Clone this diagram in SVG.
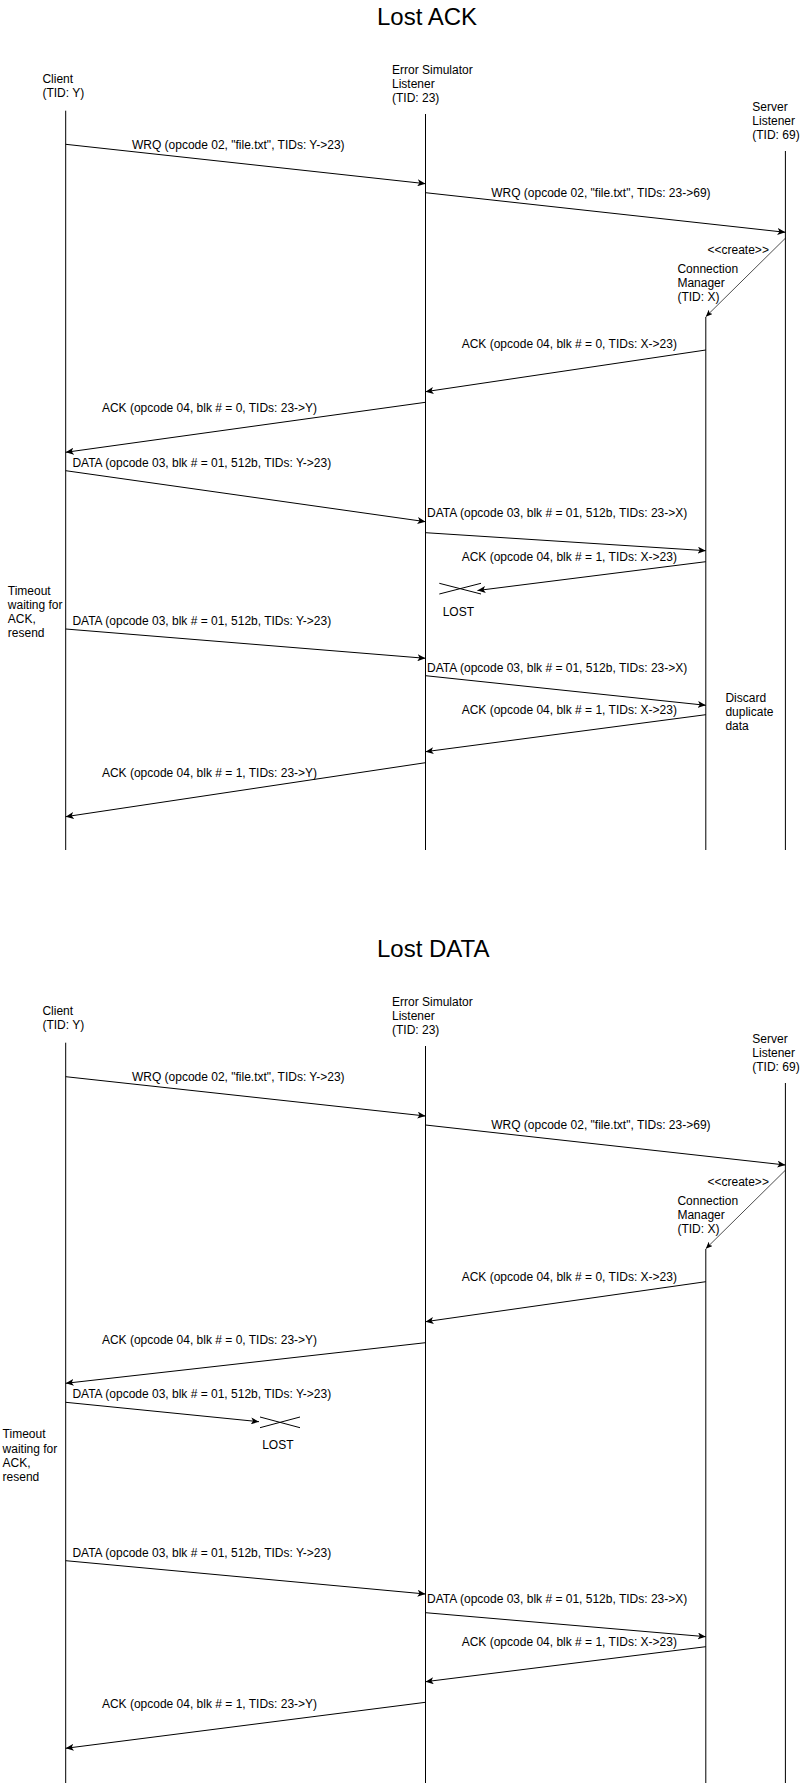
<svg xmlns="http://www.w3.org/2000/svg" width="811" height="1784" viewBox="0 0 811 1784">
<style>
text{font-family:"Liberation Sans",Arial,Helvetica,sans-serif;font-size:12px;fill:#000}
.title{font-size:24px}
.life{stroke:#000;stroke-width:1;fill:none}
.msg{stroke:#000;stroke-width:1;fill:none;marker-end:url(#arr)}
.create{stroke:#000;stroke-width:0.7;fill:none;marker-end:url(#arrs)}
.cross{stroke:#000;stroke-width:1;fill:none}
</style>
<defs>
<marker id="arr" markerWidth="9" markerHeight="7" refX="8" refY="3.5" orient="auto" markerUnits="userSpaceOnUse"><path d="M0,0 L8,3.5 L0,7 L2,3.5 Z" fill="#000"/></marker>
<marker id="arrs" markerWidth="8" markerHeight="6" refX="7" refY="3" orient="auto" markerUnits="userSpaceOnUse"><path d="M0,0 L7,3 L0,6 L1.8,3 Z" fill="#000"/></marker>
</defs>
<rect width="811" height="1784" fill="#fff"/>

<!-- ===== Lost ACK ===== -->
<g id="title-ack"><text class="title" x="377" y="25">Lost ACK</text></g>
<g id="ack-client"><text x="42.4" y="83">Client</text><text x="42.4" y="97">(TID: Y)</text><line class="life" x1="65.7" y1="110.7" x2="65.7" y2="850"/></g>
<g id="ack-errsim"><text x="392" y="74">Error Simulator</text><text x="392" y="88">Listener</text><text x="392" y="102">(TID: 23)</text><line class="life" x1="425.5" y1="114" x2="425.5" y2="850"/></g>
<g id="ack-server"><text x="752.3" y="111">Server</text><text x="752.3" y="125">Listener</text><text x="752.3" y="139">(TID: 69)</text><line class="life" x1="785.4" y1="151" x2="785.4" y2="850"/></g>
<g id="ack-connmgr"><text x="677.4" y="273">Connection</text><text x="677.4" y="287">Manager</text><text x="677.4" y="301">(TID: X)</text><line class="life" x1="705.8" y1="317" x2="705.8" y2="850"/></g>
<g id="ack-timeout"><text x="7.8" y="595">Timeout</text><text x="7.8" y="609">waiting for</text><text x="7.8" y="623">ACK,</text><text x="7.8" y="637">resend</text></g>
<g id="ack-discard"><text x="725.4" y="702">Discard</text><text x="725.4" y="716">duplicate</text><text x="725.4" y="730">data</text></g>
<g id="ack-lost"><line class="cross" x1="439.3" y1="583.3" x2="481" y2="594"/><line class="cross" x1="439.3" y1="594" x2="481" y2="583.3"/><text x="442.7" y="615.5">LOST</text></g>

<g id="ack-connectors">
<g><line class="msg" x1="65.7" y1="144.3" x2="425.5" y2="183.7"/><text x="131.9" y="148.5">WRQ (opcode 02, "file.txt", TIDs: Y-&gt;23)</text></g>
<g><line class="msg" x1="425.5" y1="192.7" x2="785.4" y2="232.3"/><text x="491.2" y="197">WRQ (opcode 02, "file.txt", TIDs: 23-&gt;69)</text></g>
<g><line class="create" x1="785.6" y1="238" x2="705.8" y2="316.7"/><text x="707.5" y="254">&lt;&lt;create&gt;&gt;</text></g>
<g><line class="msg" x1="705.8" y1="350" x2="425.5" y2="391.7"/><text x="461.7" y="348">ACK (opcode 04, blk # = 0, TIDs: X-&gt;23)</text></g>
<g><line class="msg" x1="425.5" y1="402.3" x2="65.7" y2="452.3"/><text x="101.9" y="412">ACK (opcode 04, blk # = 0, TIDs: 23-&gt;Y)</text></g>
<g><line class="msg" x1="65.7" y1="470.7" x2="425.5" y2="521.7"/><text x="72.4" y="466.7">DATA (opcode 03, blk # = 01, 512b, TIDs: Y-&gt;23)</text></g>
<g><line class="msg" x1="425.5" y1="532.7" x2="705.8" y2="550.7"/><text x="427.1" y="517">DATA (opcode 03, blk # = 01, 512b, TIDs: 23-&gt;X)</text></g>
<g><line class="msg" x1="705.8" y1="561.7" x2="477.5" y2="590.5"/><text x="461.7" y="560.7">ACK (opcode 04, blk # = 1, TIDs: X-&gt;23)</text></g>
<g><line class="msg" x1="65.7" y1="629" x2="425.5" y2="658.3"/><text x="72.4" y="624.7">DATA (opcode 03, blk # = 01, 512b, TIDs: Y-&gt;23)</text></g>
<g><line class="msg" x1="425.5" y1="675.7" x2="705.8" y2="705.3"/><text x="427.1" y="671.7">DATA (opcode 03, blk # = 01, 512b, TIDs: 23-&gt;X)</text></g>
<g><line class="msg" x1="705.8" y1="714.7" x2="425.5" y2="751.7"/><text x="461.7" y="714">ACK (opcode 04, blk # = 1, TIDs: X-&gt;23)</text></g>
<g><line class="msg" x1="425.5" y1="762.7" x2="65.7" y2="816.7"/><text x="101.9" y="777.3">ACK (opcode 04, blk # = 1, TIDs: 23-&gt;Y)</text></g>
</g>

<!-- ===== Lost DATA ===== -->
<g id="title-data"><text class="title" x="377" y="957">Lost DATA</text></g>
<g id="data-client"><text x="42.4" y="1015">Client</text><text x="42.4" y="1029">(TID: Y)</text><line class="life" x1="65.7" y1="1042.7" x2="65.7" y2="1783"/></g>
<g id="data-errsim"><text x="392" y="1006">Error Simulator</text><text x="392" y="1020">Listener</text><text x="392" y="1034">(TID: 23)</text><line class="life" x1="425.5" y1="1046" x2="425.5" y2="1783"/></g>
<g id="data-server"><text x="752.3" y="1043">Server</text><text x="752.3" y="1057">Listener</text><text x="752.3" y="1071">(TID: 69)</text><line class="life" x1="785.4" y1="1083" x2="785.4" y2="1783"/></g>
<g id="data-connmgr"><text x="677.4" y="1205">Connection</text><text x="677.4" y="1219">Manager</text><text x="677.4" y="1233">(TID: X)</text><line class="life" x1="705.8" y1="1249" x2="705.8" y2="1783"/></g>
<g id="data-timeout"><text x="2.6" y="1438.3">Timeout</text><text x="2.6" y="1452.5">waiting for</text><text x="2.6" y="1466.7">ACK,</text><text x="2.6" y="1480.7">resend</text></g>
<g id="data-lost"><line class="cross" x1="260" y1="1417" x2="300" y2="1427.7"/><line class="cross" x1="260" y1="1427.7" x2="300" y2="1417"/><text x="262.2" y="1449">LOST</text></g>

<g id="data-connectors">
<g><line class="msg" x1="65.7" y1="1076.7" x2="425.5" y2="1116"/><text x="131.9" y="1080.5">WRQ (opcode 02, "file.txt", TIDs: Y-&gt;23)</text></g>
<g><line class="msg" x1="425.5" y1="1125" x2="785.4" y2="1165"/><text x="491.2" y="1129">WRQ (opcode 02, "file.txt", TIDs: 23-&gt;69)</text></g>
<g><line class="create" x1="785.6" y1="1170" x2="705.8" y2="1248.7"/><text x="707.5" y="1186">&lt;&lt;create&gt;&gt;</text></g>
<g><line class="msg" x1="705.8" y1="1281.7" x2="425.5" y2="1321.7"/><text x="461.7" y="1280.5">ACK (opcode 04, blk # = 0, TIDs: X-&gt;23)</text></g>
<g><line class="msg" x1="425.5" y1="1342.7" x2="65.7" y2="1383.3"/><text x="101.9" y="1344">ACK (opcode 04, blk # = 0, TIDs: 23-&gt;Y)</text></g>
<g><line class="msg" x1="65.7" y1="1402.3" x2="259" y2="1421.7"/><text x="72.4" y="1398.3">DATA (opcode 03, blk # = 01, 512b, TIDs: Y-&gt;23)</text></g>
<g><line class="msg" x1="65.7" y1="1560.7" x2="425.5" y2="1594"/><text x="72.4" y="1556.7">DATA (opcode 03, blk # = 01, 512b, TIDs: Y-&gt;23)</text></g>
<g><line class="msg" x1="425.5" y1="1612.7" x2="705.8" y2="1636.7"/><text x="427.1" y="1603.3">DATA (opcode 03, blk # = 01, 512b, TIDs: 23-&gt;X)</text></g>
<g><line class="msg" x1="705.8" y1="1646.7" x2="425.5" y2="1681.7"/><text x="461.7" y="1645.7">ACK (opcode 04, blk # = 1, TIDs: X-&gt;23)</text></g>
<g><line class="msg" x1="425.5" y1="1702.3" x2="65.7" y2="1748.3"/><text x="101.9" y="1708.3">ACK (opcode 04, blk # = 1, TIDs: 23-&gt;Y)</text></g>
</g>
</svg>
